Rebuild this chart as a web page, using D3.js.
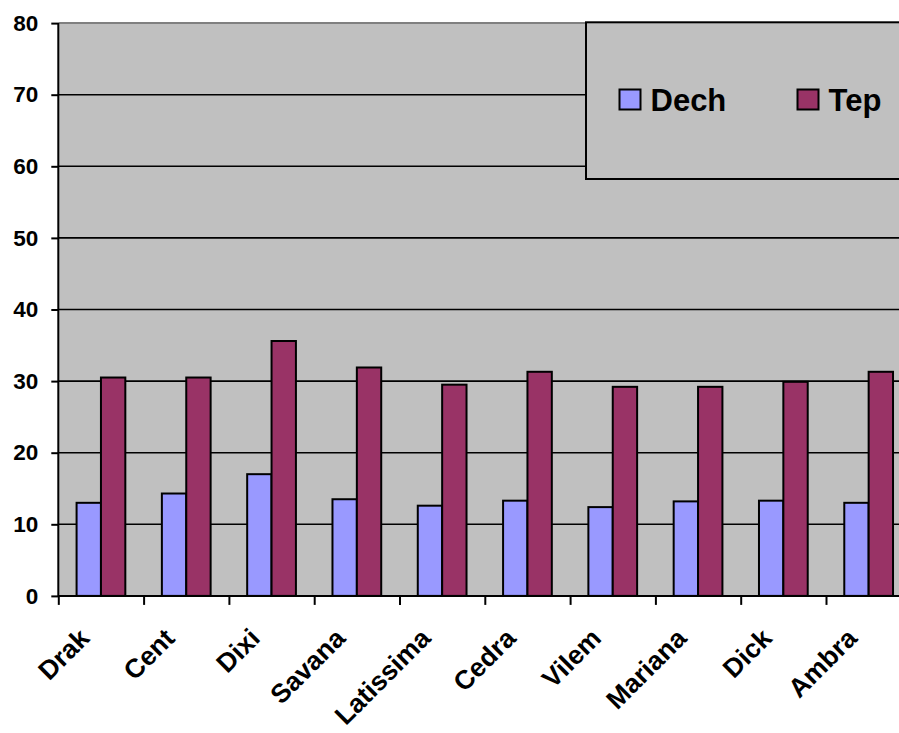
<!DOCTYPE html>
<html>
<head>
<meta charset="utf-8">
<script src="https://cdn.jsdelivr.net/npm/d3@7"></script>
<style>
  html, body { margin: 0; padding: 0; background: #fff; }
  svg { display: block; }
  text { font-family: "Liberation Sans", Arial, sans-serif; font-weight: bold; fill: #000; }
</style>
</head>
<body>
<svg id="chart" width="899" height="733"></svg>
<script>
// Varieties on the category axis
const categories = ["Drak", "Cent", "Dixi", "Savana", "Latissima", "Cedra", "Vilem", "Mariana", "Dick", "Ambra"];
// Series values
const dech = [13, 14.3, 17, 13.5, 12.6, 13.3, 12.4, 13.2, 13.3, 13];
const tep = [30.5, 30.5, 35.6, 31.9, 29.5, 31.3, 29.2, 29.2, 29.9, 31.3];
const seriesNames = ["Dech", "Tep"];
const seriesColors = ["#9999FF", "#993366"];
const yTicks = [0, 10, 20, 30, 40, 50, 60, 70, 80];

const svg = d3.select("#chart");

// Plot area (right side runs past the edge of the canvas)
const plot = { left: 58.3, right: 911.3, top: 23.1, bottom: 595.9 };

const y = d3.scaleLinear().domain([0, 80]).range([plot.bottom, plot.top]);
const x0 = d3.scaleBand().domain(categories).range([plot.left, plot.right]).padding(0);
const bw = x0.bandwidth();
// gap width 150%: each band = 2 bars + 1.5 bar widths of gap
const groupW = bw * 2 / 3.5;
const x1 = d3.scaleBand().domain(seriesNames).range([bw * 0.75 / 3.5, bw * 0.75 / 3.5 + groupW]).padding(0);
const xIdx = d3.scaleLinear().domain([0, categories.length]).range([plot.left, plot.right]);

// Plot background
svg.append("rect")
  .attr("x", plot.left).attr("y", plot.top)
  .attr("width", plot.right - plot.left).attr("height", plot.bottom - plot.top)
  .attr("fill", "#C0C0C0");
svg.append("line")
  .attr("x1", plot.left).attr("x2", plot.right)
  .attr("y1", plot.top).attr("y2", plot.top)
  .attr("stroke", "#808080").attr("stroke-width", 2);

// Gridlines
svg.append("g")
  .selectAll("line")
  .data(yTicks.filter(t => t > 0 && t < 80))
  .join("line")
  .attr("x1", plot.left).attr("x2", plot.right)
  .attr("y1", d => y(d)).attr("y2", d => y(d))
  .attr("stroke", "#000").attr("stroke-width", 1.6);

// Bars
const rows = categories.map((c, i) => ({ cat: c, values: [dech[i], tep[i]] }));
const groups = svg.append("g").selectAll("g")
  .data(rows).join("g")
  .attr("transform", d => `translate(${x0(d.cat)},0)`);
groups.selectAll("rect")
  .data(d => d.values.map((v, j) => ({ name: seriesNames[j], v, color: seriesColors[j] })))
  .join("rect")
  .attr("x", d => x1(d.name))
  .attr("y", d => y(d.v))
  .attr("width", x1.bandwidth())
  .attr("height", d => y(0) - y(d.v))
  .attr("fill", d => d.color)
  .attr("stroke", "#000")
  .attr("stroke-width", 2);

// Y axis
const yAxis = svg.append("g")
  .attr("transform", `translate(${plot.left},0)`)
  .call(d3.axisLeft(y).tickValues(yTicks).tickSize(7).tickPadding(13).tickFormat(d3.format("d")));
yAxis.select(".domain").attr("stroke", "#000").attr("stroke-width", 2)
  .attr("d", `M0,${plot.top}V${plot.bottom}`);
yAxis.selectAll(".tick line").attr("stroke", "#000").attr("stroke-width", 2);
yAxis.selectAll(".tick text")
  .attr("font-size", 22.5).attr("font-family", "Liberation Sans, Arial, sans-serif")
  .attr("font-weight", "bold").attr("fill", "#000");

// X axis: tick marks on category boundaries
const xAxis = svg.append("g")
  .attr("transform", `translate(0,${plot.bottom})`)
  .call(d3.axisBottom(xIdx).tickValues(d3.range(categories.length + 1)).tickSize(9).tickFormat(""));
xAxis.select(".domain").attr("stroke", "#000").attr("stroke-width", 2)
  .attr("d", `M${plot.left},0H${plot.right}`);
xAxis.selectAll(".tick line").attr("stroke", "#000").attr("stroke-width", 2);

// Rotated category labels
svg.append("g").selectAll("text")
  .data(categories).join("text")
  .attr("text-anchor", "end")
  .attr("font-size", 26.5)
  .attr("transform", d => `translate(${x0(d) + bw / 2 - 10},${plot.bottom + 44}) rotate(-45)`)
  .text(d => d);

// Legend
const legend = svg.append("g");
legend.append("rect")
  .attr("x", 586).attr("y", 22.3).attr("width", 340).attr("height", 156.7)
  .attr("fill", "#C0C0C0").attr("stroke", "#000").attr("stroke-width", 2);
const legendX = [619.5, 797.5];
seriesNames.forEach((name, i) => {
  legend.append("rect")
    .attr("x", legendX[i]).attr("y", 89.5).attr("width", 21).attr("height", 20)
    .attr("fill", seriesColors[i]).attr("stroke", "#000").attr("stroke-width", 2);
  legend.append("text")
    .attr("x", legendX[i] + 31).attr("y", 110.5)
    .attr("font-size", 31)
    .text(name);
});
</script>
</body>
</html>
